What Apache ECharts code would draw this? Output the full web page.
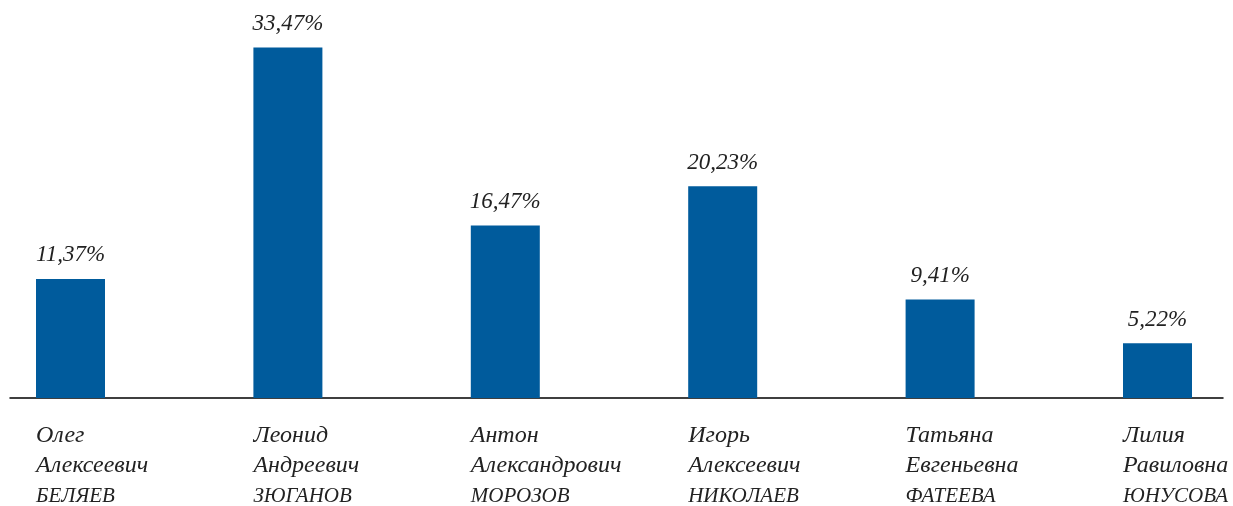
<!DOCTYPE html>
<html><head><meta charset="utf-8">
<script src="https://cdn.jsdelivr.net/npm/echarts@6/dist/echarts.min.js"></script>
<style>html,body{margin:0;padding:0;background:#fff}#c{width:1233px;height:506px}</style>
</head><body><div id="c"></div>
<script>
const firstNames = ['Олег','Леонид','Антон','Игорь','Татьяна','Лилия'];
const patronymics = ['Алексеевич','Андреевич','Александрович','Алексеевич','Евгеньевна','Равиловна'];
const surnames = ['БЕЛЯЕВ','ЗЮГАНОВ','МОРОЗОВ','НИКОЛАЕВ','ФАТЕЕВА','ЮНУСОВА'];
const values = [11.37, 33.47, 16.47, 20.23, 9.41, 5.22];
const spacer = values.map(() => '-');

const categories = firstNames.map((f, i) => f + '\n' + patronymics[i] + '\n' + surnames[i]);
const font = "'Liberation Serif', 'DejaVu Serif', serif";
const chart = echarts.init(document.getElementById('c'));
chart.setOption({
  animation: false,
  grid: [
    {left: -72.7, right: 1.3, top: 31.5, bottom: 108, outerBoundsMode: 'none', containLabel: false},
    {left: 10, right: 10, top: 397, bottom: 108, outerBoundsMode: 'none', containLabel: false}
  ],
  xAxis: [
    {type: 'category', gridIndex: 0, data: categories,
     axisLine: {show: false}, axisTick: {show: false},
     axisLabel: {interval: 0, align: 'left', margin: 22,
       formatter: v => { const p = v.split('\n'); return '{a|' + p[0] + '}\n{a|' + p[1] + '}\n{b|' + p[2] + '}'; },
       rich: {
         a: {fontFamily: font, fontStyle: 'italic', fontSize: 24, lineHeight: 30.5, color: '#222'},
         b: {fontFamily: font, fontStyle: 'italic', fontSize: 21, lineHeight: 30.5, color: '#222'}
       }}},
    {type: 'value', gridIndex: 1, min: 0, max: 1,
     axisLine: {show: true, onZero: false, lineStyle: {color: '#000', width: 1.5}},
     axisTick: {show: false}, axisLabel: {show: false}, splitLine: {show: false}}
  ],
  yAxis: [
    {type: 'value', gridIndex: 0, min: 0, max: 35, show: false, splitLine: {show: false}},
    {type: 'value', gridIndex: 1, show: false}
  ],
  series: [
    {type: 'bar', xAxisIndex: 0, yAxisIndex: 0, data: spacer, barWidth: 69, barGap: '0%', silent: true},
    {type: 'bar', xAxisIndex: 0, yAxisIndex: 0, data: values, barWidth: 69, barGap: '0%',
     itemStyle: {color: '#005b9c'},
     label: {show: true, position: 'top', distance: 12,
       formatter: p => String(p.value).replace('.', ',') + '%',
       fontFamily: font, fontStyle: 'italic', fontSize: 23, color: '#222'}}
  ]
});
</script></body></html>
